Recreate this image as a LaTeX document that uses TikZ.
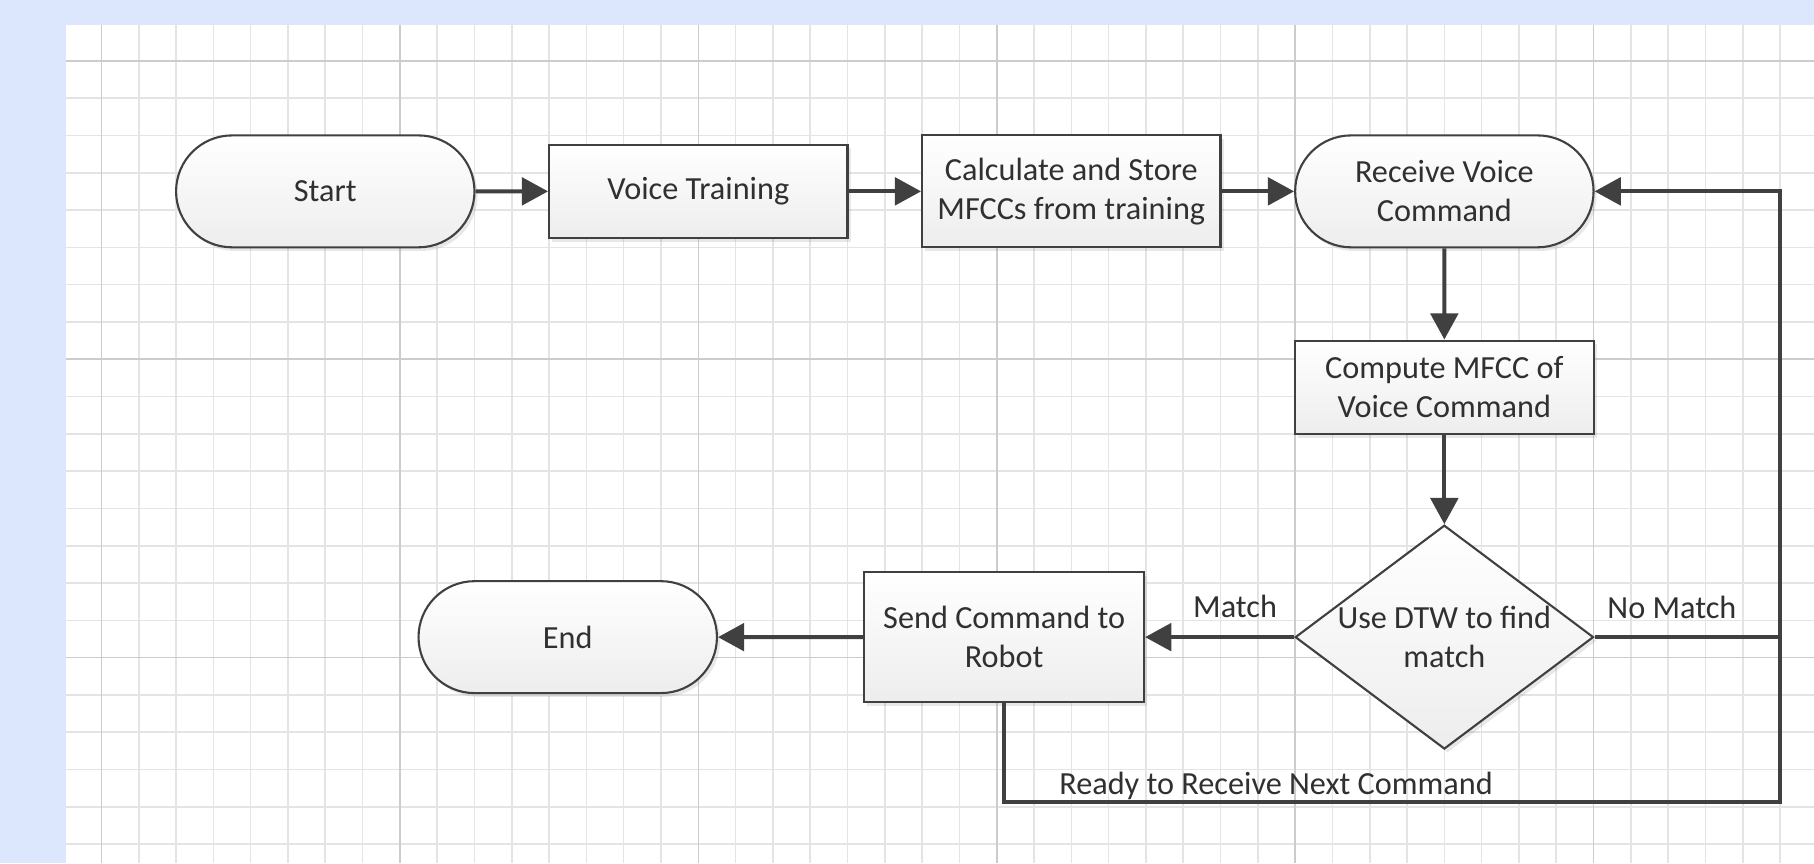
\documentclass[tikz,border=0pt]{standalone}
\usepackage{fontspec}
\setmainfont{Carlito}
\usetikzlibrary{arrows.meta,shapes.geometric,shapes.misc,shadows}

\definecolor{bgblue}{RGB}{220,230,252}
\definecolor{gridminor}{RGB}{228,228,228}
\definecolor{gridmajor}{RGB}{204,204,204}
\definecolor{linegray}{RGB}{64,64,64}
\definecolor{textgray}{RGB}{48,48,48}

\begin{document}
\begin{tikzpicture}[x=5mm, y=-5mm, >={Triangle[length=10pt,width=10.5pt]},
    txt/.style={text=textgray, font=\fontsize{12.3}{14.9}\selectfont, align=center},
    fillbox/.style={txt, draw=linegray, line width=0.8pt, top color=white, bottom color=black!7,
        drop shadow={shadow xshift=1.2pt, shadow yshift=-1.4pt, opacity=0.18}, inner sep=0pt},
    procbox/.style={fillbox, rectangle, minimum width=40mm},
    termbox/.style={fillbox, rounded rectangle, minimum width=40mm, minimum height=15mm},
    decbox/.style={fillbox, diamond, minimum width=40mm, minimum height=30mm},
    conn/.style={draw=linegray, line width=1.5pt}]

    % Page and canvas
    \useasboundingbox[fill=bgblue] (-2.72,-1.63) rectangle (45.91,21.51);
    \fill[white] (-0.95,-0.96) rectangle (45.91,21.51);

    % Grid
    \foreach \x in {0,...,45} \draw[gridminor, line width=0.6pt] (\x,-0.96) -- (\x,21.51);
    \foreach \y in {0,...,21} \draw[gridminor, line width=0.6pt] (-0.95,\y) -- (45.91,\y);
    \foreach \x in {0,8,...,40} \draw[gridmajor, line width=0.6pt] (\x,-0.96) -- (\x,21.51);
    \foreach \y in {0,8,16} \draw[gridmajor, line width=0.6pt] (-0.95,\y) -- (45.91,\y);

    % Top row
    \node[termbox] (start) at (6,3.5) {Start};
    \node[procbox, minimum height=12.5mm] (train) at (16,3.5) {Voice Training};
    \node[procbox, minimum height=15mm] (calc) at (26,3.5) {Calculate and Store\\MFCCs from training};
    \node[termbox] (recv) at (36,3.5) {Receive Voice\\Command};

    % Right column
    \node[procbox, minimum height=12.5mm] (comp) at (36,8.75) {Compute MFCC of\\Voice Command};
    \node[decbox] (dtw) at (36,15.45) {};
    \node[txt] (dtwtext) at (dtw) {Use DTW to find\\match};

    % Bottom row
    \node[procbox, minimum width=37.5mm, minimum height=17.5mm] (send) at (24.2,15.45) {Send Command to\\Robot};
    \node[termbox] (stop) at (12.5,15.45) {End};

    % Flow
    \draw[conn,->] (start) -- (train);
    \draw[conn,->] (train) -- (calc);
    \draw[conn,->] (calc) -- (recv);
    \draw[conn,->] (recv) -- (comp);
    \draw[conn,->] (comp) -- (dtw);
    \draw[conn,->] (dtw) -- (send);
    \draw[conn,->] (send) -- (stop);

    % Loop back
    \coordinate (back) at (45,19.87);
    \draw[conn] (dtw.east) -- (dtw.east -| back);
    \draw[conn,->] (send.south) |- (back) |- (recv.east);

    % Labels
    \node[txt, anchor=base] (match) at (30.39,14.92) {Match};
    \node[txt, anchor=base] (nomatch) at (42.1,14.94) {No Match};
    \node[txt, anchor=base west] (ready) at (25.43,19.68) {Ready to Receive Next Command};
\end{tikzpicture}
\end{document}
